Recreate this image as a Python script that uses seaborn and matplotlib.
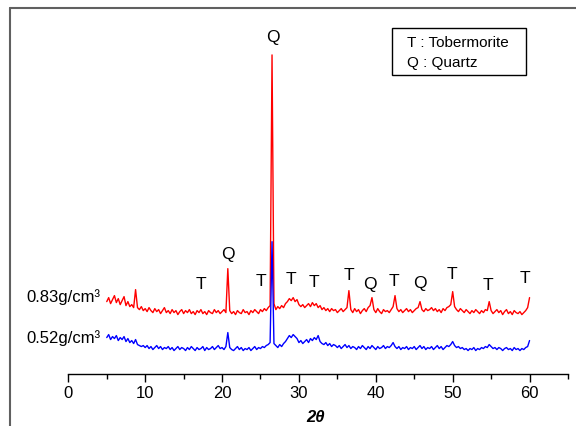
import numpy as np
import matplotlib
matplotlib.use('Agg')
import matplotlib.pyplot as plt
import seaborn as sns
from matplotlib.patches import Rectangle
from matplotlib.lines import Line2D

# scan 5-60 deg, step 0.25 (one row = 5 deg)
two_theta = np.arange(5.0, 60.001, 0.25)

# 0.83 g/cm3 sample (offset trace)
dense = [
    72, 76, 70, 74, 78, 71, 75, 69, 73, 77, 68, 72, 67, 69, 66, 84, 66, 64, 67, 63,   # 5
    65, 62, 66, 63, 61, 65, 62, 64, 60, 63, 66, 61, 63, 60, 64, 61, 63, 59, 62, 64,   # 10
    60, 63, 61, 64, 60, 62, 59, 63, 61, 64, 60, 62, 59, 63, 61, 60, 64, 61, 63, 60,   # 15
    62, 64, 61, 105, 63, 60, 62, 59, 63, 61, 60, 64, 61, 62, 59, 63, 61, 64, 62, 60,  # 20
    64, 62, 65, 63, 66, 68, 319, 70, 64, 67, 65, 68, 66, 70, 72, 75, 73, 76, 72, 74,  # 25
    69, 67, 69, 66, 68, 70, 67, 71, 68, 70, 66, 68, 64, 66, 63, 65, 62, 65, 63, 64,   # 30
    61, 63, 65, 62, 64, 66, 83, 64, 61, 65, 62, 64, 60, 63, 65, 62, 66, 68, 76, 64,   # 35
    61, 65, 62, 60, 64, 62, 63, 61, 64, 67, 78, 65, 62, 64, 61, 63, 65, 62, 64, 61,   # 40
    63, 65, 66, 72, 64, 62, 65, 63, 64, 66, 63, 65, 62, 64, 61, 65, 63, 66, 67, 69,   # 45
    82, 67, 64, 62, 65, 63, 61, 64, 62, 60, 63, 61, 64, 62, 60, 63, 61, 64, 63, 72,   # 50
    63, 60, 62, 64, 61, 63, 59, 62, 64, 60, 62, 59, 63, 61, 60, 62, 59, 61, 63, 66,   # 55
    76,
]

# 0.52 g/cm3 sample
light = [
    36, 39, 34, 37, 35, 38, 33, 36, 34, 37, 32, 35, 31, 33, 30, 34, 29, 28, 27, 28,   # 5
    26, 28, 25, 27, 24, 26, 28, 25, 27, 24, 26, 25, 27, 24, 26, 23, 25, 27, 24, 26,   # 10
    25, 23, 26, 24, 27, 25, 23, 26, 24, 25, 27, 23, 26, 24, 25, 27, 24, 26, 28, 25,   # 15
    26, 24, 27, 41, 26, 24, 23, 25, 27, 24, 26, 23, 25, 24, 26, 23, 25, 27, 24, 26,   # 20
    25, 27, 26, 28, 29, 31, 132, 30, 28, 26, 29, 27, 30, 32, 35, 38, 36, 39, 37, 35,  # 25
    31, 33, 30, 32, 34, 31, 35, 33, 36, 34, 38, 32, 30, 29, 31, 28, 30, 27, 29, 28,   # 30
    26, 28, 25, 27, 29, 26, 28, 25, 27, 26, 24, 27, 25, 28, 26, 24, 27, 25, 28, 26,   # 35
    24, 27, 25, 26, 28, 25, 27, 26, 28, 31, 27, 25, 27, 24, 26, 25, 27, 24, 26, 25,   # 40
    27, 24, 26, 28, 25, 27, 24, 26, 25, 27, 24, 26, 28, 25, 27, 24, 26, 28, 27, 29,   # 45
    32, 28, 26, 27, 25, 26, 24, 25, 23, 25, 24, 26, 23, 25, 24, 26, 25, 27, 26, 29,   # 50
    27, 25, 26, 24, 26, 25, 23, 25, 26, 24, 25, 23, 26, 24, 25, 23, 25, 24, 26, 27,   # 55
    33,
]

# phase marks above the peaks
phase = ['T', 'Q', 'T', 'Q', 'T', 'T', 'T', 'Q', 'T', 'Q', 'T', 'T', 'T']
phase_x = [17.2, 20.8, 25.0, 26.6, 29.0, 32.0, 36.5, 39.2, 42.3, 45.7, 49.9, 54.6, 59.4]
phase_y = [89, 119, 92, 336, 94, 91, 98, 89, 92, 90, 99, 88, 95]

samples = ['0.83g/cm³', '0.52g/cm³']
sample_y = [77, 36]

legend_lines = ['T : Tobermorite', 'Q : Quartz']

sns.set_style('white')
plt.rcParams['font.family'] = ['Liberation Sans', 'DejaVu Sans']
plt.rcParams['text.color'] = 'black'
plt.rcParams['xtick.color'] = 'black'
plt.rcParams['xtick.labelcolor'] = 'black'

fig = plt.figure(figsize=(5.76, 4.26), dpi=100)
ax = fig.add_axes([0.1186, 0.1232, 0.8675, 0.844])

sns.lineplot(x=two_theta, y=dense, ax=ax, color='#ff0000', lw=1.0, estimator=None)
sns.lineplot(x=two_theta, y=light, ax=ax, color='#0000ff', lw=1.0, estimator=None)

for s, x, y in zip(phase, phase_x, phase_y):
    ax.text(x, y, s, ha='center', va='center', fontsize=12.5, color='black')

for s, y in zip(samples, sample_y):
    ax.text(-5.4, y, s, ha='left', va='center', fontsize=12, color='black', clip_on=False)

# legend box
ax.add_patch(Rectangle((42.05, 299), 17.45, 46.7, fill=False, ec='black', lw=1.0, clip_on=False))
ax.text(44.0, 331, legend_lines[0], ha='left', va='center', fontsize=11, color='black')
ax.text(44.0, 311, legend_lines[1], ha='left', va='center', fontsize=11, color='black')

ax.set_xlim(0, 65)
ax.set_ylim(0, 360)
ax.set_xticks([0, 10, 20, 30, 40, 50, 60])
ax.set_xticks(np.arange(5, 66, 10), minor=True)
ax.set_yticks([])
ax.tick_params(axis='x', which='major', direction='out', length=6, width=1, color='black',
               labelsize=12, labelcolor='black', pad=3, bottom=True)
ax.tick_params(axis='x', which='minor', direction='out', length=3.5, width=1, color='black', bottom=True)
for side in ['left', 'right', 'top']:
    ax.spines[side].set_visible(False)
ax.spines['bottom'].set_color('black')
ax.spines['bottom'].set_linewidth(1.0)
ax.set_xlabel('')
ax.set_ylabel('')
ax.text(0.494, -0.121, '2θ', transform=ax.transAxes, ha='center', va='center',
        fontsize=12, fontstyle='italic', fontweight='bold', color='black')

# outer frame (partly cropped)
fig.add_artist(Line2D([10/576, 1.0], [1 - 7.5/426, 1 - 7.5/426], transform=fig.transFigure,
                      color='#606060', lw=1.5))
fig.add_artist(Line2D([10/576, 10/576], [0.0, 1 - 7.5/426], transform=fig.transFigure,
                      color='#606060', lw=1.5))

fig.savefig('out.png', dpi=100)
